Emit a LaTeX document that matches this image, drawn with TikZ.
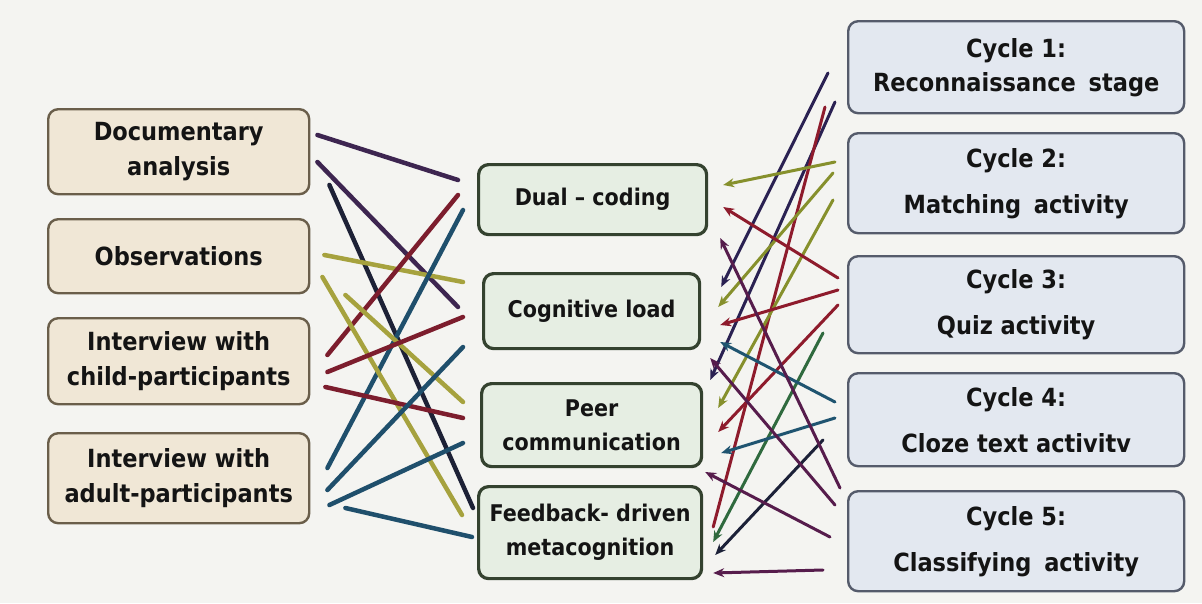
\documentclass[tikz,border=0pt]{standalone}
\usepackage{fontspec}
\setmainfont{DejaVu Sans Condensed}[BoldFont={DejaVu Sans Condensed Bold}]
\usetikzlibrary{arrows.meta,calc}
\definecolor{bg}{HTML}{F4F4F1}
\definecolor{lfill}{HTML}{F0E7D6}
\definecolor{ldraw}{HTML}{6A5E4A}
\definecolor{mfill}{HTML}{E6EEE3}
\definecolor{mdraw}{HTML}{34422F}
\definecolor{rfill}{HTML}{E3E8F0}
\definecolor{rdraw}{HTML}{555B6B}
\definecolor{cPur}{HTML}{3D2550}
\definecolor{cNavy}{HTML}{1D2136}
\definecolor{cRed}{HTML}{7C1D2D}
\definecolor{cTeal}{HTML}{1F4F6C}
\definecolor{cOlive}{HTML}{A6A23E}
\definecolor{rNavy}{HTML}{2A2152}
\definecolor{rRed}{HTML}{8E1B2C}
\definecolor{rOlive}{HTML}{86902C}
\definecolor{rGreen}{HTML}{2F6A3E}
\definecolor{rTeal}{HTML}{1F5470}
\definecolor{rNavyB}{HTML}{1C2138}
\definecolor{rPurple}{HTML}{561C4C}
\tikzset{
  box/.style={rounded corners=10pt, align=center, text=black!92, inner sep=2pt, anchor=north west},
  lbox/.style={box, fill=lfill, draw=ldraw, line width=2.4pt, font=\fontsize{25}{35}\selectfont\bfseries},
  mbox/.style={box, fill=mfill, draw=mdraw, line width=3.2pt, font=\fontsize{23}{34}\selectfont\bfseries},
  rbox/.style={box, fill=rfill, draw=rdraw, line width=2.4pt, font=\fontsize{25}{46}\selectfont\bfseries},
  lline/.style={line width=4.5pt, line cap=round},
  rarr/.style={line width=3pt, line cap=round, -{Stealth[length=11pt,width=9pt]}},
  rline/.style={line width=3pt, line cap=round},
}
\begin{document}
\begin{tikzpicture}[x=1pt,y=-1pt]
\fill[bg] (0,0) rectangle (1202,603);
\useasboundingbox (0,0) rectangle (1202,603);
% left boxes
\node[lbox, minimum width=261pt, minimum height=85pt] (doc) at (47,108) {Documentary\\analysis};
\node[lbox, minimum width=261pt, minimum height=74pt] (obs) at (47,218) {Observations};
\node[lbox, minimum width=261pt, minimum height=86pt] (child) at (47,317) {Interview with\\child-participants};
\node[lbox, minimum width=261pt, minimum height=90pt] (adult) at (47,432) {Interview with\\adult-participants};
% middle boxes
\node[mbox, minimum width=228pt, minimum height=70pt] (dual) at (477,163) {Dual – coding};
\node[mbox, minimum width=216pt, minimum height=75pt] (cog) at (482,272) {Cognitive load};
\node[mbox, minimum width=220pt, minimum height=83pt] (peer) at (480,382) {Peer\\communication};
\node[mbox, minimum width=223pt, minimum height=92pt] (feed) at (477,485) {Feedback- driven\\metacognition};
% right boxes
\node[rbox, minimum width=336pt, minimum height=92pt, font=\fontsize{25}{34}\selectfont\bfseries] (c1) at (847,20) {Cycle 1:\\Reconnaissance\hspace{0.2em} stage};
\node[rbox, minimum width=336pt, minimum height=100pt] (c2) at (847,132) {Cycle 2:\\Matching\hspace{0.2em} activity};
\node[rbox, minimum width=336pt, minimum height=97pt] (c3) at (847,255) {Cycle 3:\\Quiz activity};
\node[rbox, minimum width=336pt, minimum height=93pt] (c4) at (847,372) {Cycle 4:\\Cloze text activitv};
\node[rbox, minimum width=336pt, minimum height=100pt] (c5) at (847,490) {Cycle 5:\\Classifying\hspace{0.2em} activity};
% left connectors
\draw[lline, cPur] ($(doc.north east)+(7,27)$) -- ($(dual.north west)+(-19,17)$);
\draw[lline, cPur] ($(doc.north east)+(7,54)$) -- ($(cog.north west)+(-24,35)$);
\draw[lline, cNavy] ($(doc.north east)+(19,77)$) -- ($(feed.north west)+(-4,23)$);
\draw[lline, cOlive] ($(obs.north east)+(14,37)$) -- ($(cog.north west)+(-19,10)$);
\draw[lline, cRed] ($(child.north east)+(17,38)$) -- ($(dual.north west)+(-19,32)$);
\draw[lline, cTeal] ($(adult.north east)+(17,36)$) -- ($(dual.north west)+(-14,47)$);
\draw[lline, cOlive] ($(obs.north east)+(12,59)$) -- ($(feed.north west)+(-15,30)$);
\draw[lline, cOlive] ($(obs.north east)+(35,77)$) -- ($(peer.north west)+(-17,20)$);
\draw[lline, cRed] ($(child.north east)+(17,55)$) -- ($(cog.north west)+(-19,45)$);
\draw[lline, cRed] ($(child.north east)+(15,70)$) -- ($(peer.north west)+(-17,36)$);
\draw[lline, cTeal] ($(adult.north east)+(17,58)$) -- ($(cog.north west)+(-19,75)$);
\draw[lline, cTeal] ($(adult.north east)+(19,73)$) -- ($(peer.north west)+(-17,61)$);
\draw[lline, cTeal] ($(adult.north east)+(35,76)$) -- ($(feed.north west)+(-5,52)$);
% right connectors
\draw[rarr, rNavy] ($(c1.north west)+(-19,53)$) -- ($(cog.north east)+(20,15)$);
\draw[rarr, rNavy] ($(c1.north west)+(-12,82)$) -- ($(peer.north east)+(7,-2)$);
\draw[rline, rRed] ($(c1.north west)+(-22,87)$) -- ($(feed.north east)+(10,42)$);
\draw[rarr, rOlive] ($(c2.north west)+(-12,30)$) -- ($(dual.north east)+(15,22)$);
\draw[rarr, rOlive] ($(c2.north west)+(-14,41)$) -- ($(cog.north east)+(17,35)$);
\draw[rarr, rOlive] ($(c2.north west)+(-14,68)$) -- ($(peer.north east)+(15,26)$);
\draw[rarr, rRed] ($(c3.north west)+(-9,23)$) -- ($(dual.north east)+(15,44)$);
\draw[rarr, rRed] ($(c3.north west)+(-9,35)$) -- ($(cog.north east)+(19,53)$);
\draw[rarr, rRed] ($(c3.north west)+(-9,50)$) -- ($(peer.north east)+(15,50)$);
\draw[rarr, rGreen] ($(c3.north west)+(-24,78)$) -- ($(feed.north east)+(10,57)$);
\draw[rarr, rTeal] ($(c4.north west)+(-12,30)$) -- ($(cog.north east)+(19,70)$);
\draw[rarr, rTeal] ($(c4.north west)+(-12,46)$) -- ($(peer.north east)+(18,71)$);
\draw[rarr, rNavyB] ($(c4.north west)+(-24,68)$) -- ($(feed.north east)+(12,70)$);
\draw[rarr, rPurple] ($(c5.north west)+(-7,-2)$) -- ($(dual.north east)+(12,75)$);
\draw[rarr, rPurple] ($(c5.north west)+(-12,15)$) -- ($(cog.north east)+(9,86)$);
\draw[rarr, rPurple] ($(c5.north west)+(-17,47)$) -- ($(feed.north east)+(2,-13)$);
\draw[rarr, rPurple] ($(c5.north west)+(-24,80)$) -- ($(feed.north east)+(10,88)$);
\end{tikzpicture}
\end{document}
